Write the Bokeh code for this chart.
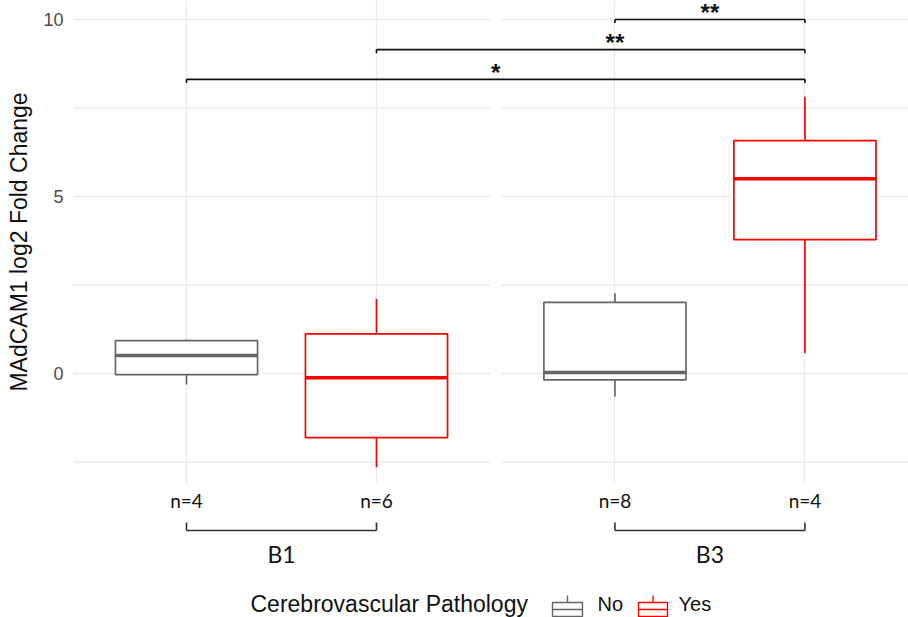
from bokeh.plotting import figure
from bokeh.models import Range1d, FixedTicker
from bokeh.layouts import column
from bokeh.embed import file_html
from bokeh.resources import INLINE
from bokeh.core.properties import value

# ---------------- data ----------------
batches = ["B1", "B1", "B3", "B3"]
pathology = ["No", "Yes", "No", "Yes"]
n_labels = ["n=4", "n=6", "n=8", "n=4"]
lower_whisker = [-0.31, -2.65, -0.65, 0.57]
q1 = [-0.03, -1.81, -0.18, 3.78]
median = [0.51, -0.12, 0.03, 5.50]
q3 = [0.93, 1.12, 2.01, 6.58]
upper_whisker = [0.96, 2.11, 2.27, 7.82]

# significance comparisons (indices into the groups above)
comp_from = [0, 1, 2]
comp_to = [3, 3, 3]
comp_y = [8.31, 9.15, 10.0]
comp_label = ["*", "**", "**"]
comp_label_anchor = [None, 2, None]   # None -> centred over the bracket

y_ticks = [0, 5, 10]
y_grid = [-2.5, 0, 2.5, 5, 7.5, 10]
legend_title = "Cerebrovascular Pathology"
legend_levels = ["No", "Yes"]

# ---------------- styling / layout ----------------
colors = {"No": "#666666", "Yes": "#FF0000"}
panel_center = {"B1": 1.5, "B3": 3.755}
dodge = {"No": -0.5, "Yes": 0.5}
half_box = 0.374
panel_half = 1.097
X0, X1 = 0.4053, 4.8
PX_PER_UNIT = 190.0
LEFT = 73

def px(v):
    return X0 + (v - LEFT) / PX_PER_UNIT

xs = [panel_center[b] + dodge[g] for b, g in zip(batches, pathology)]
cols = [colors[g] for g in pathology]

p = figure(width=908, height=518, x_range=Range1d(X0, X1),
           y_range=Range1d(-3.107, 10.537),
           output_backend="svg", toolbar_location=None,
           min_border_left=LEFT, min_border_right=0,
           min_border_top=0, min_border_bottom=35)
p.outline_line_color = None
p.background_fill_color = "white"
p.ygrid.visible = False
p.xgrid.ticker = FixedTicker(ticks=xs)
p.xgrid.grid_line_color = "#EBEBEB"
p.xgrid.grid_line_width = 1.3

# x axis
p.xaxis.ticker = FixedTicker(ticks=xs)
p.xaxis.major_label_overrides = {x: lab for x, lab in zip(xs, n_labels)}
p.xaxis.axis_line_color = None
p.xaxis.major_tick_line_color = None
p.xaxis.minor_tick_line_color = None
p.xaxis.major_tick_out = 0
p.xaxis.major_tick_in = 0
p.xaxis.major_label_standoff = 5
p.xaxis.major_label_text_font = "Lato"
p.xaxis.major_label_text_font_size = "19px"
p.xaxis.major_label_text_color = "#111111"

# y axis
p.yaxis.ticker = FixedTicker(ticks=y_ticks)
p.yaxis.axis_line_color = None
p.yaxis.major_tick_line_color = None
p.yaxis.minor_tick_line_color = None
p.yaxis.major_tick_out = 0
p.yaxis.major_tick_in = 0
p.yaxis.major_label_standoff = 10
p.yaxis.major_label_text_font = "Liberation Sans"
p.yaxis.major_label_text_font_size = "18px"
p.yaxis.major_label_text_color = "#4D4D4D"
p.yaxis.axis_label = "MAdCAM1 log2 Fold Change"
p.yaxis.axis_label_text_font = "Liberation Sans"
p.yaxis.axis_label_text_font_size = "23px"
p.yaxis.axis_label_text_font_style = "normal"
p.yaxis.axis_label_text_color = "#111111"
p.yaxis.axis_label_standoff = 8

# horizontal gridlines per facet panel
gx0, gx1, gy = [], [], []
for b in ["B1", "B3"]:
    for yv in y_grid:
        gx0.append(panel_center[b] - panel_half)
        gx1.append(panel_center[b] + panel_half)
        gy.append(yv)
p.segment(x0=gx0, y0=gy, x1=gx1, y1=gy, line_color="#EBEBEB", line_width=1.3)

# boxplots
p.segment(x0=xs, y0=q3, x1=xs, y1=upper_whisker, line_color=cols, line_width=1.7)
p.segment(x0=xs, y0=q1, x1=xs, y1=lower_whisker, line_color=cols, line_width=1.7)
p.quad(left=[x - half_box for x in xs], right=[x + half_box for x in xs],
       bottom=q1, top=q3, fill_color="white", line_color=cols, line_width=1.7)
p.segment(x0=[x - half_box for x in xs], y0=median,
          x1=[x + half_box for x in xs], y1=median,
          line_color=cols, line_width=3.4)

# significance brackets
bx0 = [xs[i] for i in comp_from]
bx1 = [xs[j] for j in comp_to]
tick = 0.1
p.segment(x0=bx0, y0=comp_y, x1=bx1, y1=comp_y, line_color="#111111", line_width=1.6)
p.segment(x0=bx0, y0=comp_y, x1=bx0, y1=[y - tick for y in comp_y],
          line_color="#111111", line_width=1.6)
p.segment(x0=bx1, y0=comp_y, x1=bx1, y1=[y - tick for y in comp_y],
          line_color="#111111", line_width=1.6)
star_x = [(a + b) / 2 if anc is None else xs[anc]
          for a, b, anc in zip(bx0, bx1, comp_label_anchor)]
p.text(x=star_x, y=comp_y, text=comp_label, text_align="center",
       text_baseline="alphabetic", y_offset=-7,
       text_font=value("Liberation Sans"), text_font_size="24px",
       text_font_style="bold", text_color="#111111")

# ---------------- bottom strip: batch brackets + legend ----------------
p2 = figure(width=908, height=99, x_range=p.x_range, y_range=Range1d(99, 0),
            output_backend="svg", toolbar_location=None,
            x_axis_location=None, y_axis_location=None,
            min_border_left=LEFT, min_border_right=0,
            min_border_top=0, min_border_bottom=0)
p2.outline_line_color = None
p2.grid.visible = False

groups = ["B1", "B3"]
gl = [min(x for x, b in zip(xs, batches) if b == g) for g in groups]
gr = [max(x for x, b in zip(xs, batches) if b == g) for g in groups]
p2.segment(x0=gl, y0=[12] * 2, x1=gr, y1=[12] * 2, line_color="#333333", line_width=1.6)
p2.segment(x0=gl, y0=[12] * 2, x1=gl, y1=[4] * 2, line_color="#333333", line_width=1.6)
p2.segment(x0=gr, y0=[12] * 2, x1=gr, y1=[4] * 2, line_color="#333333", line_width=1.6)
p2.text(x=[(a + b) / 2 for a, b in zip(gl, gr)], y=[35] * 2, text=groups,
        text_align="center", text_baseline="middle",
        text_font=value("Lato"), text_font_size="23px", text_color="#111111")

# legend (drawn manually to mimic ggplot boxplot keys)
p2.text(x=[px(250)], y=[85], text=[legend_title], text_align="left",
        text_baseline="middle", text_font=value("Liberation Sans"),
        text_font_size="23px", text_color="#111111")
key_left = [px(552), px(638)]
key_right = [px(582), px(667)]
key_mid = [(a + b) / 2 for a, b in zip(key_left, key_right)]
key_cols = [colors[g] for g in legend_levels]
p2.segment(x0=key_mid, y0=[77] * 2, x1=key_mid, y1=[99] * 2, line_color=key_cols, line_width=1.4)
p2.quad(left=key_left, right=key_right, top=[84] * 2, bottom=[98] * 2,
        fill_color="white", line_color=key_cols, line_width=1.4)
p2.segment(x0=key_left, y0=[91] * 2, x1=key_right, y1=[91] * 2, line_color=key_cols, line_width=1.4)
p2.text(x=[px(597), px(678)], y=[85] * 2, text=legend_levels, text_align="left",
        text_baseline="middle", text_font=value("Liberation Sans"),
        text_font_size="20px", text_color="#111111")

layout = column(p, p2, spacing=0)
open("out.html", "w").write(file_html(layout, INLINE))
